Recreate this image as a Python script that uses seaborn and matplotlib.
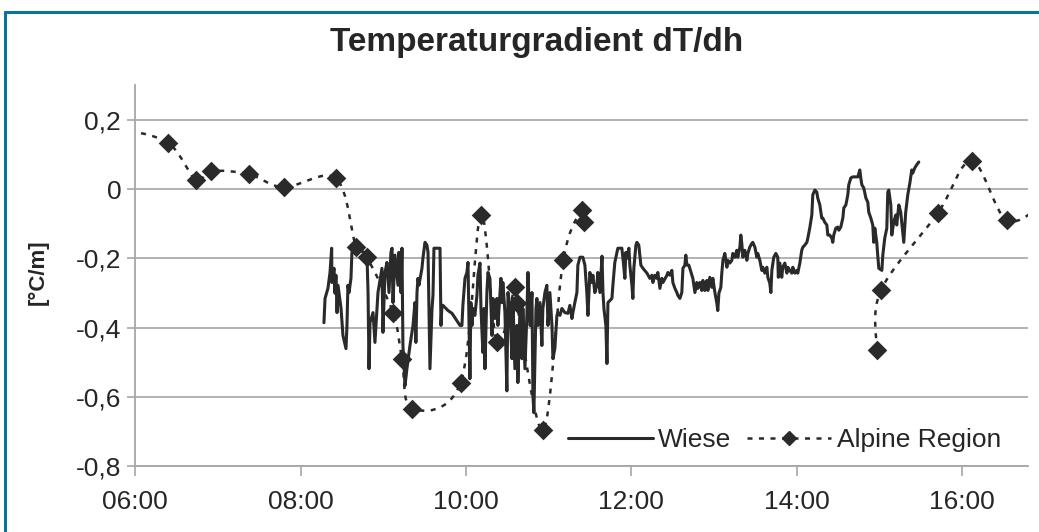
import numpy as np
import pandas as pd
import matplotlib
matplotlib.use("Agg")
import matplotlib.pyplot as plt
from matplotlib.path import Path
from matplotlib.patches import PathPatch
from matplotlib.lines import Line2D
from matplotlib.ticker import FuncFormatter
import seaborn as sns

# Wiese: time in minutes after midnight, gradient in degC/m
wiese_min = [
    497.0, 497.8, 499.9, 501.4, 502.6, 502.8, 504.3, 505.0, 505.7, 506.5,
    507.2, 509.4, 510.8, 513.0, 513.7, 514.4, 515.2, 516.6, 517.3, 519.5,
    521.7, 526.8, 528.2, 529.0, 529.7, 530.4, 532.6, 534.0, 535.5, 536.2,
    539.1, 539.8, 541.3, 542.7, 544.2, 545.6, 546.4, 547.1, 548.5, 550.7,
    551.4, 552.9, 553.6, 554.3, 555.8, 557.2, 559.4, 561.6, 563.0, 563.7,
    564.5, 565.2, 565.9, 568.1, 568.8, 570.3, 571.7, 572.5, 573.9, 575.4,
    576.1, 576.8, 581.2, 581.9, 582.6, 583.3, 587.0, 589.9, 595.7, 597.1,
    597.8, 599.3, 600.7, 601.5, 602.9, 603.6, 604.4, 605.1, 606.5, 608.0,
    608.7, 610.2, 610.9, 612.3, 613.1, 613.8, 615.2, 616.0, 617.4, 618.9,
    619.6, 621.0, 622.5, 623.2, 625.4, 626.1, 626.8, 628.3, 629.7, 630.5,
    631.9, 633.4, 634.1, 635.5, 637.0, 637.7, 639.2, 640.6, 641.3, 642.8,
    644.2, 645.0, 646.4, 647.9, 648.6, 649.3, 650.8, 651.5, 652.2, 653.7,
    655.1, 655.8, 657.3, 658.7, 659.5, 660.9, 662.4, 663.1, 664.5, 666.0,
    666.7, 668.2, 669.6, 671.8, 674.0, 675.4, 676.9, 677.6, 679.0, 680.5,
    681.2, 682.7, 684.8, 686.3, 687.7, 688.5, 689.9, 691.4, 692.1, 693.5,
    695.0, 695.7, 697.2, 698.7, 699.4, 700.1, 701.5, 702.3, 703.0, 705.9,
    706.6, 708.0, 709.5, 710.2, 713.1, 713.9, 715.3, 716.0, 716.7, 718.2,
    718.9, 720.4, 721.1, 721.8, 723.3, 724.0, 725.4, 726.9, 728.4, 731.3,
    733.4, 734.9, 735.6, 737.1, 738.5, 739.2, 740.7, 742.1, 742.9, 745.8,
    746.5, 747.9, 749.4, 750.1, 751.6, 753.0, 753.7, 755.2, 756.6, 757.4,
    758.8, 759.5, 760.3, 761.7, 763.9, 764.6, 766.1, 767.5, 768.2, 769.7,
    771.1, 771.9, 773.3, 774.8, 775.5, 776.9, 778.4, 779.1, 780.6, 782.0,
    782.7, 783.5, 784.9, 785.6, 786.4, 787.8, 789.3, 790.0, 791.4, 792.9,
    793.6, 795.1, 796.5, 797.2, 798.7, 799.4, 800.1, 800.9, 802.3, 803.8,
    804.5, 805.9, 807.4, 808.1, 809.6, 811.0, 811.7, 813.2, 814.6, 815.4,
    816.8, 818.3, 819.0, 820.4, 821.2, 821.9, 823.3, 824.8, 826.2, 826.6,
    827.7, 829.1, 829.8, 831.3, 832.8, 833.5, 834.9, 836.4, 837.1, 838.6,
    840.0, 840.7, 842.2, 843.6, 844.4, 845.8, 847.3, 848.0, 849.4, 850.9,
    851.6, 853.1, 854.5, 855.2, 856.7, 858.1, 858.9, 860.3, 861.8, 862.5,
    863.9, 865.4, 866.1, 866.8, 868.3, 869.7, 870.5, 871.9, 873.4, 874.1,
    875.6, 877.0, 877.7, 879.2, 880.6, 884.3, 885.7, 886.4, 887.2, 888.6,
    890.1, 891.5, 892.2, 893.7, 895.1, 895.8, 896.6, 898.0, 898.7, 899.5,
    901.7, 902.4, 903.8, 905.3, 906.0, 906.7, 908.2, 908.9, 910.3, 911.8,
    912.5, 914.0, 915.4, 916.1, 917.6, 919.0, 920.5, 922.0, 923.4, 924.1,
    925.6, 927.0, 928.5,
]
wiese_val = [
    -0.386, -0.316, -0.287, -0.241, -0.171, -0.270, -0.229, -0.301, -0.249, -0.357,
    -0.278, -0.345, -0.423, -0.461, -0.394, -0.278, -0.299, -0.258, -0.183, -0.177,
    -0.171, -0.186, -0.191, -0.299, -0.519, -0.386, -0.357, -0.443, -0.345, -0.299,
    -0.229, -0.414, -0.241, -0.212, -0.299, -0.183, -0.171, -0.328, -0.191, -0.278,
    -0.183, -0.299, -0.171, -0.452, -0.568, -0.519, -0.452, -0.394, -0.328, -0.443,
    -0.299, -0.258, -0.278, -0.229, -0.200, -0.154, -0.162, -0.183, -0.519, -0.345,
    -0.307, -0.171, -0.171, -0.394, -0.336, -0.336, -0.351, -0.359, -0.394, -0.394,
    -0.336, -0.258, -0.241, -0.212, -0.548, -0.328, -0.394, -0.345, -0.365, -0.307,
    -0.249, -0.214, -0.345, -0.472, -0.345, -0.519, -0.299, -0.241, -0.258, -0.423,
    -0.316, -0.374, -0.316, -0.394, -0.258, -0.328, -0.270, -0.357, -0.583, -0.299,
    -0.345, -0.490, -0.316, -0.519, -0.394, -0.559, -0.345, -0.490, -0.345, -0.519,
    -0.365, -0.241, -0.394, -0.299, -0.597, -0.646, -0.345, -0.316, -0.394, -0.328,
    -0.452, -0.345, -0.299, -0.278, -0.394, -0.299, -0.394, -0.490, -0.461, -0.365,
    -0.357, -0.365, -0.345, -0.357, -0.359, -0.336, -0.374, -0.357, -0.328, -0.299,
    -0.220, -0.197, -0.197, -0.220, -0.299, -0.365, -0.241, -0.270, -0.249, -0.299,
    -0.278, -0.241, -0.299, -0.194, -0.299, -0.345, -0.394, -0.504, -0.328, -0.316,
    -0.278, -0.212, -0.183, -0.171, -0.171, -0.200, -0.258, -0.183, -0.200, -0.171,
    -0.220, -0.278, -0.316, -0.229, -0.162, -0.154, -0.162, -0.220, -0.229, -0.243,
    -0.258, -0.249, -0.270, -0.249, -0.258, -0.241, -0.287, -0.258, -0.270, -0.249,
    -0.241, -0.249, -0.235, -0.270, -0.287, -0.299, -0.307, -0.316, -0.299, -0.229,
    -0.220, -0.191, -0.220, -0.220, -0.249, -0.258, -0.299, -0.270, -0.287, -0.270,
    -0.293, -0.264, -0.293, -0.264, -0.293, -0.255, -0.284, -0.258, -0.299, -0.330,
    -0.351, -0.301, -0.284, -0.243, -0.206, -0.186, -0.226, -0.206, -0.214, -0.206,
    -0.186, -0.197, -0.177, -0.197, -0.168, -0.133, -0.157, -0.197, -0.177, -0.206,
    -0.186, -0.168, -0.157, -0.154, -0.168, -0.197, -0.186, -0.206, -0.235, -0.226,
    -0.243, -0.226, -0.255, -0.272, -0.299, -0.235, -0.197, -0.186, -0.197, -0.255,
    -0.214, -0.255, -0.226, -0.214, -0.243, -0.226, -0.235, -0.243, -0.226, -0.243,
    -0.235, -0.243, -0.214, -0.177, -0.168, -0.162, -0.154, -0.142, -0.113, -0.075,
    -0.017, -0.003, -0.009, -0.026, -0.046, -0.084, -0.084, -0.096, -0.104, -0.133,
    -0.133, -0.142, -0.154, -0.133, -0.113, -0.110, -0.119, -0.110, -0.084, -0.055,
    -0.046, -0.017, 0.012, 0.032, 0.035, 0.035, 0.055, 0.032, 0.012, 0.003,
    -0.026, -0.038, -0.067, -0.084, -0.104, -0.154, -0.113, -0.154, -0.191, -0.229,
    -0.235, -0.191, -0.142, -0.113, -0.009, -0.003, -0.046, -0.133, -0.096, -0.075,
    -0.104, -0.046, -0.067, -0.096, -0.154, -0.067, -0.017, 0.017, 0.055, 0.046,
    0.061, 0.070, 0.078,
]

# Alpine Region: time in hours, NaN marks the gap in the record
alpine_hour = [5.80, 6.395, 6.737, 6.918, 7.374, 7.797, 8.429, 8.671, 8.800,
               9.118, 9.227, 9.344, 9.936, 10.181, 10.375, 10.592, 10.613,
               10.934, 11.176, 11.402, 11.426, 13.0, 14.967, 15.015, 15.704,
               16.115, 16.538, 17.0]
alpine_val = [0.175, 0.134, 0.026, 0.052, 0.043, 0.005, 0.031, -0.167, -0.196,
              -0.357, -0.490, -0.634, -0.559, -0.075, -0.443, -0.283, -0.328,
              -0.696, -0.206, -0.061, -0.096, np.nan, -0.464, -0.293, -0.070,
              0.081, -0.090, -0.040]

hour_ticks = [6, 8, 10, 12, 14, 16]
y_ticks = [-0.8, -0.6, -0.4, -0.2, 0.0, 0.2]

wiese = pd.DataFrame({'hour': np.array(wiese_min) / 60.0, 'grad': wiese_val})
alpine = pd.DataFrame({'hour': alpine_hour, 'grad': alpine_val})

sns.set_style('white')
plt.rcParams['font.family'] = ['Liberation Sans Narrow', 'Liberation Sans', 'DejaVu Sans']

dark = '#2a2a2a'
grey = '#a6a6a6'

fig = plt.figure(figsize=(10.39, 5.32), dpi=100)
ax = fig.add_axes([0.130, 0.124, 0.859, 0.716])

ax.set_xlim(6.0, 16.79)
ax.set_ylim(-0.8, 0.3)
ax.set_yticks(y_ticks)
ax.set_xticks(hour_ticks)
ax.yaxis.grid(True, color=grey, lw=1.2)
ax.xaxis.grid(False)
ax.set_axisbelow(True)


def smooth_path(x, y):
    # excel style smoothed line (catmull-rom as bezier)
    verts = [(x[0], y[0])]
    codes = [Path.MOVETO]
    n = len(x)
    for i in range(n - 1):
        a = max(i - 1, 0)
        b = min(i + 2, n - 1)
        c1 = (x[i] + (x[i + 1] - x[a]) / 6, y[i] + (y[i + 1] - y[a]) / 6)
        c2 = (x[i + 1] - (x[b] - x[i]) / 6, y[i + 1] - (y[b] - y[i]) / 6)
        verts += [c1, c2, (x[i + 1], y[i + 1])]
        codes += [Path.CURVE4] * 3
    return Path(verts, codes)


# split alpine record on the gap and draw the smoothed dotted curve
gap = alpine['grad'].isna().cumsum()
for _, part in alpine.dropna().groupby(gap[alpine['grad'].notna()]):
    p = smooth_path(part['hour'].tolist(), part['grad'].tolist())
    ax.add_patch(PathPatch(p, fill=False, edgecolor=dark, lw=1.8,
                           linestyle=(0, (2, 2.6)), zorder=2))

sns.scatterplot(data=alpine.dropna(), x='hour', y='grad', marker='D', s=100,
                color=dark, edgecolor=dark, linewidth=0, ax=ax, zorder=3)
sns.lineplot(data=wiese, x='hour', y='grad', estimator=None, sort=False,
             color=dark, lw=2.2, ax=ax, zorder=4)

ax.set_xlabel('')
ax.set_ylabel('[°C/m]', fontsize=16, fontweight='bold')
ax.yaxis.set_label_coords(-0.097, 0.51)

ax.xaxis.set_major_formatter(FuncFormatter(lambda v, p: '%02d:00' % int(round(v))))
ax.yaxis.set_major_formatter(FuncFormatter(lambda v, p: '0' if abs(v) < 1e-9 else ('%.1f' % v).replace('.', ',')))
ax.tick_params(axis='x', direction='out', length=7, width=1.2, color=grey,
               labelsize=19, pad=10, bottom=True)
ax.tick_params(axis='y', direction='out', length=6, width=1.2, color=grey,
               labelsize=19, pad=4, left=True)

for side in ['top', 'right']:
    ax.spines[side].set_visible(False)
for side in ['left', 'bottom']:
    ax.spines[side].set_color(grey)
    ax.spines[side].set_linewidth(1.3)

handles = [
    Line2D([], [], color=dark, lw=2.2),
    Line2D([], [], color=dark, lw=1.8, linestyle=(0, (2, 2.6)), marker='D',
           markersize=7),
]
ax.legend(handles, ['Wiese', 'Alpine Region'], loc='center right',
          bbox_to_anchor=(0.985, 0.068), ncol=2, frameon=False, fontsize=19,
          handlelength=3.2, handletextpad=0.2, columnspacing=0.6, borderpad=0)

fig.text(537 / 1039, 1 - 43 / 532, 'Temperaturgradient dT/dh', ha='center',
         va='center', fontsize=24, fontweight='bold')

# teal frame around the chart
teal = '#0b7399'
fig.add_artist(Line2D([4.5 / 1039, 4.5 / 1039], [0, 1 - 12 / 532], color=teal,
                      lw=2.2, transform=fig.transFigure))
fig.add_artist(Line2D([4.5 / 1039, 1.0], [1 - 12 / 532, 1 - 12 / 532], color=teal,
                      lw=2.2, transform=fig.transFigure))

fig.savefig('out.png', dpi=100)
